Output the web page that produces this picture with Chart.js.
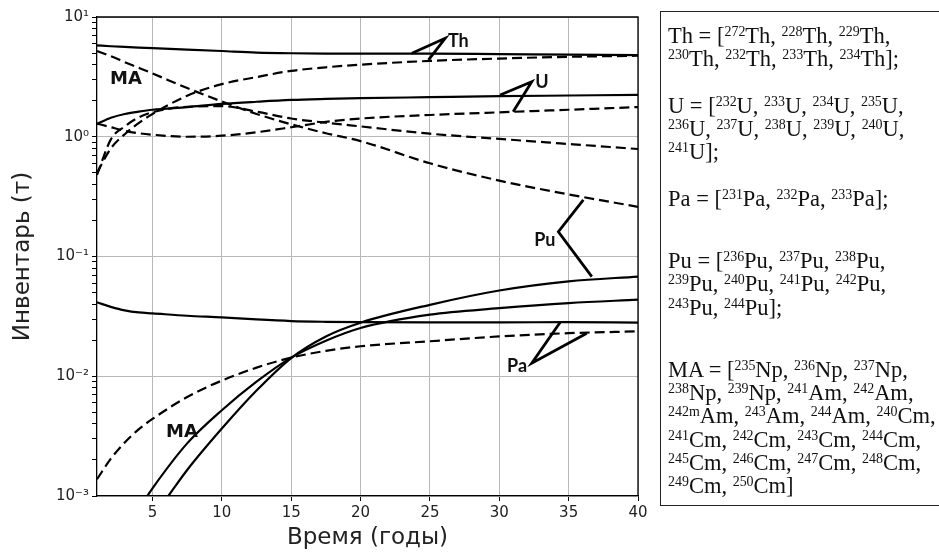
<!DOCTYPE html>
<html>
<head>
<meta charset="utf-8">
<title>Инвентарь</title>
<script src="https://cdn.jsdelivr.net/npm/chart.js@4.4.1/dist/chart.umd.min.js"></script>
<style>
  html, body { margin: 0; padding: 0; background: #fff; }
  #wrap { position: relative; width: 939px; height: 556px; overflow: hidden; }
  #chart { position: absolute; left: 0; top: 0; }
  #nuclides {
    position: absolute; left: 660px; top: 11px; width: 320px; height: 495px;
    box-sizing: border-box; border: 1px solid #222; padding: 12px 0 0 7px;
    font-family: "Liberation Serif", "Times New Roman", serif; font-size: 22.5px;
    line-height: 23.3px; color: #111; white-space: nowrap;
  }
  #nuclides p { margin: 0 0 23.3px 0; }
  #nuclides p.wide { margin-bottom: 38.7px; }
  #nuclides sup { font-size: 0.62em; line-height: 0; vertical-align: 0.5em; }
</style>
</head>
<body>
<div id="wrap">
  <canvas id="chart" width="939" height="556"></canvas>
  <div id="nuclides">
    <p>Th = [<sup>272</sup>Th, <sup>228</sup>Th, <sup>229</sup>Th,<br><sup>230</sup>Th, <sup>232</sup>Th, <sup>233</sup>Th, <sup>234</sup>Th];</p>
    <p>U = [<sup>232</sup>U, <sup>233</sup>U, <sup>234</sup>U, <sup>235</sup>U,<br><sup>236</sup>U, <sup>237</sup>U, <sup>238</sup>U, <sup>239</sup>U, <sup>240</sup>U,<br><sup>241</sup>U];</p>
    <p class="wide">Pa = [<sup>231</sup>Pa, <sup>232</sup>Pa, <sup>233</sup>Pa];</p>
    <p class="wide">Pu = [<sup>236</sup>Pu, <sup>237</sup>Pu, <sup>238</sup>Pu,<br><sup>239</sup>Pu, <sup>240</sup>Pu, <sup>241</sup>Pu, <sup>242</sup>Pu,<br><sup>243</sup>Pu, <sup>244</sup>Pu];</p>
    <p>MA = [<sup>235</sup>Np, <sup>236</sup>Np, <sup>237</sup>Np,<br><sup>238</sup>Np, <sup>239</sup>Np, <sup>241</sup>Am, <sup>242</sup>Am,<br><sup>242m</sup>Am, <sup>243</sup>Am, <sup>244</sup>Am, <sup>240</sup>Cm,<br><sup>241</sup>Cm, <sup>242</sup>Cm, <sup>243</sup>Cm, <sup>244</sup>Cm,<br><sup>245</sup>Cm, <sup>246</sup>Cm, <sup>247</sup>Cm, <sup>248</sup>Cm,<br><sup>249</sup>Cm, <sup>250</sup>Cm]</p>
  </div>
</div>
<script>
// time grid shared by most curves (years)
const years = [1, 2, 3, 4, 5, 7.5, 10, 12.5, 15, 17.5, 20, 25, 30, 35, 40];

// inventories, tonnes (solid = first fuel variant, dashed = second)
const thSolid   = [5.8, 5.7, 5.62, 5.56, 5.5, 5.35, 5.2, 5.05, 4.98, 4.95, 4.95, 4.95, 4.9, 4.85, 4.8];
const thDashed  = [0.5, 0.8, 1.05, 1.3, 1.55, 2.2, 2.75, 3.15, 3.55, 3.8, 4.0, 4.3, 4.5, 4.65, 4.75];
const uSolid    = [1.28, 1.44, 1.55, 1.62, 1.68, 1.77, 1.88, 1.96, 2.03, 2.07, 2.1, 2.14, 2.18, 2.21, 2.24];
const uDashed   = [1.29, 1.2, 1.12, 1.07, 1.04, 1.0, 1.02, 1.09, 1.2, 1.33, 1.42, 1.52, 1.6, 1.68, 1.77];
const maDashed  = [0.48, 0.95, 1.22, 1.45, 1.6, 1.78, 1.8, 1.62, 1.42, 1.31, 1.22, 1.06, 0.96, 0.87, 0.79];
const puDashed  = [5.2, 4.7, 4.2, 3.77, 3.38, 2.55, 1.97, 1.55, 1.27, 1.07, 0.92, 0.6, 0.43, 0.33, 0.26];
const paSolid   = [0.0414, 0.038, 0.0355, 0.0341, 0.0335, 0.032, 0.031, 0.0298, 0.0289, 0.0285, 0.0283, 0.0282, 0.0282, 0.0283, 0.028];
const paDashed  = [0.00138, 0.00205, 0.0028, 0.0036, 0.0044, 0.0067, 0.0092, 0.0118, 0.0143, 0.0163, 0.0178, 0.0196, 0.0215, 0.0229, 0.0237];

// MA and Pu (solid) only appear above 1e-3 after a few years
const maSolidYears = [4.63, 5, 7.5, 10, 12.5, 15, 17.5, 20, 25, 30, 35, 40];
const maSolid      = [0.001, 0.00116, 0.00275, 0.0052, 0.009, 0.0143, 0.0198, 0.0253, 0.0327, 0.037, 0.0408, 0.0436];
const puSolidYears = [6.14, 7.5, 10, 12.5, 15, 17.5, 20, 25, 30, 35, 40];
const puSolid      = [0.001, 0.00165, 0.00366, 0.0076, 0.0142, 0.0215, 0.028, 0.0395, 0.052, 0.062, 0.068];

const xTicks = [5, 10, 15, 20, 25, 30, 35, 40];
const yDecades = [-3, -2, -1, 0, 1];

// label pointers, in data units [year, tonnes]
const pointers = [
  [[23.7, 4.98], [26.1, 6.64], [24.9, 4.38]],
  [[30.06, 2.23], [32.34, 2.88], [31.0, 1.62]],
  [[36.06, 0.297], [34.26, 0.161], [36.67, 0.068]],
  [[34.38, 0.0281], [32.34, 0.01285], [36.31, 0.0229]]
];
const labels = [
  { text: 'Th', x: 26.3, y: 6.3, align: 'left' },
  { text: 'U', x: 32.6, y: 2.85, align: 'left' },
  { text: 'Pu', x: 34.05, y: 0.138, align: 'right' },
  { text: 'Pa', x: 32.0, y: 0.0122, align: 'right' },
  { text: 'MA', x: 3.09, y: 3.04, align: 'center' },
  { text: 'MA', x: 7.13, y: 0.00337, align: 'center' }
];

function series(xs, ys) {
  return xs.map((x, i) => ({ x: x, y: ys[i] }));
}

function line(data, dashed) {
  return {
    data: data,
    borderColor: '#000',
    borderWidth: 2.2,
    borderDash: dashed ? [10, 5] : [],
    pointRadius: 0,
    fill: false,
    cubicInterpolationMode: 'monotone'
  };
}

const SUP = { '-': '\u207B', '0': '\u2070', '1': '\u00B9', '2': '\u00B2', '3': '\u00B3' };
function isDecade(v) {
  const e = Math.log10(v);
  return Math.abs(e - Math.round(e)) < 1e-9;
}

const annotate = {
  id: 'annotate',
  afterDatasetsDraw(chart) {
    const ctx = chart.ctx;
    const sx = chart.scales.x, sy = chart.scales.y;
    const area = chart.chartArea;
    ctx.save();
    ctx.strokeStyle = '#000';
    ctx.lineWidth = 2.8;
    ctx.lineJoin = 'miter';
    pointers.forEach(p => {
      ctx.beginPath();
      p.forEach(([x, y], i) => {
        const px = sx.getPixelForValue(x), py = sy.getPixelForValue(y);
        if (i === 0) ctx.moveTo(px, py); else ctx.lineTo(px, py);
      });
      ctx.stroke();
    });
    ctx.fillStyle = '#111';
    ctx.textBaseline = 'middle';
    labels.forEach(l => {
      ctx.font = l.text === 'MA' ? 'bold 18px "DejaVu Sans"' : 'bold 18px Lato';
      ctx.textAlign = l.align;
      ctx.fillText(l.text, sx.getPixelForValue(l.x), sy.getPixelForValue(l.y));
    });
    // top and right spines
    ctx.strokeStyle = '#000';
    ctx.lineWidth = 1.3;
    ctx.beginPath();
    ctx.moveTo(area.left, area.top);
    ctx.lineTo(area.right, area.top);
    ctx.lineTo(area.right, area.bottom);
    ctx.stroke();
    ctx.restore();
  }
};

new Chart(document.getElementById('chart'), {
  type: 'line',
  data: {
    datasets: [
      line(series(years, thSolid), false),
      line(series(years, thDashed), true),
      line(series(years, uSolid), false),
      line(series(years, uDashed), true),
      line(series(years, maDashed), true),
      line(series(years, puDashed), true),
      line(series(years, paSolid), false),
      line(series(years, paDashed), true),
      line(series(maSolidYears, maSolid), false),
      line(series(puSolidYears, puSolid), false)
    ]
  },
  options: {
    responsive: false,
    animation: false,
    devicePixelRatio: 1,
    layout: { padding: { top: 17, right: 301, left: 0, bottom: 0 } },
    plugins: { legend: { display: false }, tooltip: { enabled: false } },
    scales: {
      x: {
        type: 'linear',
        min: 1,
        max: 40,
        afterBuildTicks: s => { s.ticks = xTicks.map(v => ({ value: v })); },
        afterFit: s => { s.height = 60; },
        grid: { color: '#b8b8b8', lineWidth: 1, tickLength: 5, tickColor: '#000' },
        border: { color: '#000', width: 1.3 },
        ticks: { color: '#222', font: { family: 'DejaVu Sans', size: 15 }, padding: 3, maxRotation: 0 },
        title: {
          display: true, text: 'Время (годы)', color: '#222',
          font: { family: 'DejaVu Sans', size: 23 }, padding: { top: 4, bottom: 4 }
        }
      },
      y: {
        type: 'logarithmic',
        min: 1e-3,
        max: 10,
        afterBuildTicks: s => {
          const t = [];
          yDecades.forEach(e => {
            const base = Math.pow(10, e);
            const top = e === yDecades[yDecades.length - 1] ? 1 : 9;
            for (let m = 1; m <= top; m++) t.push({ value: m * base });
          });
          s.ticks = t;
        },
        afterFit: s => { s.width = 97; },
        grid: {
          color: c => (c.tick && isDecade(c.tick.value)) ? '#b8b8b8' : 'rgba(0,0,0,0)',
          lineWidth: 1, tickLength: 5, tickColor: '#000'
        },
        border: { color: '#000', width: 1.3 },
        ticks: {
          autoSkip: false,
          color: '#222',
          font: { family: 'DejaVu Sans', size: 15 },
          padding: 3,
          callback: v => {
            if (!isDecade(v)) return '';
            return '10' + String(Math.round(Math.log10(v))).split('').map(c => SUP[c]).join('');
          }
        },
        title: {
          display: true, text: 'Инвентарь (т)', color: '#222',
          font: { family: 'DejaVu Sans', size: 23 }, padding: { top: 9, bottom: 9 }
        }
      }
    }
  },
  plugins: [annotate]
});
</script>
</body>
</html>
